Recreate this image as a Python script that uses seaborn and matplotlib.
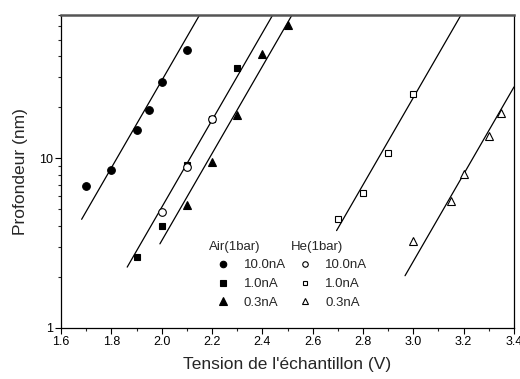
import numpy as np
import pandas as pd
import matplotlib
matplotlib.use("Agg")
import matplotlib.pyplot as plt
from matplotlib.lines import Line2D
import seaborn as sns

# ---- data ----
air10_x = [1.70, 1.80, 1.90, 1.95, 2.00, 2.10]
air10_y = [6.9, 8.5, 14.6, 19.4, 28.2, 43.4]
air1_x = [1.90, 2.00, 2.10, 2.20, 2.30]
air1_y = [2.62, 4.0, 9.2, 17.1, 34.0]
air03_x = [2.10, 2.20, 2.30, 2.40, 2.50]
air03_y = [5.3, 9.5, 18.0, 41.1, 60.8]
he10_x = [2.00, 2.10, 2.20]
he10_y = [4.85, 8.9, 17.0]
he1_x = [2.70, 2.80, 2.90, 3.00]
he1_y = [4.38, 6.28, 10.7, 23.9]
he03_x = [3.00, 3.15, 3.20, 3.30, 3.35]
he03_y = [3.27, 5.6, 8.1, 13.5, 18.5]

# fitted lines: log10(y) = intercept + slope * x, drawn over [x_start, x_end]
fit_slope = 2.57
fit_intercepts = [-3.682, -4.429, -4.626, -6.352, -7.317]
fit_x_start = [1.682, 1.863, 1.993, 2.695, 2.967]
fit_x_end = [2.16, 2.45, 2.53, 3.20, 3.40]

current_labels = ["10.0nA", "1.0nA", "0.3nA"]
x_ticks = [1.6, 1.8, 2.0, 2.2, 2.4, 2.6, 2.8, 3.0, 3.2, 3.4]
y_ticks = [1, 10]

sns.set_style("ticks")
plt.rcParams["font.family"] = ["Liberation Sans", "DejaVu Sans"]

fig = plt.figure(figsize=(5.2, 3.79), dpi=100)
ax = fig.add_axes([61 / 520, 1 - 328 / 379, 453 / 520, 313 / 379])

# fit lines
for b, xs, xe in zip(fit_intercepts, fit_x_start, fit_x_end):
    xx = np.linspace(xs, xe, 50)
    yy = 10 ** (b + fit_slope * xx)
    sns.lineplot(x=xx, y=yy, ax=ax, color="black", linewidth=0.9, legend=False)

series = [
    (air10_x, air10_y, "o", "black", 5.5),
    (air1_x, air1_y, "s", "black", 5.0),
    (air03_x, air03_y, "^", "black", 6.0),
    (he10_x, he10_y, "o", "white", 5.5),
    (he1_x, he1_y, "s", "white", 5.0),
    (he03_x, he03_y, "^", "white", 6.0),
]
for xs, ys, m, fc, ms in series:
    ax.plot(xs, ys, linestyle="none", marker=m, markersize=ms,
            markerfacecolor=fc, markeredgecolor="black", markeredgewidth=0.8,
            zorder=3)

ax.set_yscale("log")
ax.set_xlim(1.6, 3.4)
ax.set_ylim(1, 70)
ax.set_xticks(x_ticks)
ax.set_xticklabels([f"{t:.1f}" for t in x_ticks])
ax.set_xticks(np.arange(1.7, 3.4, 0.2), minor=True)
ax.set_yticks(y_ticks)
ax.set_yticklabels([str(t) for t in y_ticks])
ax.yaxis.set_minor_locator(matplotlib.ticker.LogLocator(base=10, subs=np.arange(2, 10)))
ax.yaxis.set_minor_formatter(matplotlib.ticker.NullFormatter())

ax.tick_params(axis="both", which="major", direction="out", length=4, width=0.8,
               labelsize=9, colors="black", pad=2)
ax.tick_params(axis="both", which="minor", direction="out", length=2.5, width=0.8)

for s in ["left", "bottom", "right"]:
    ax.spines[s].set_visible(True)
    ax.spines[s].set_color("black")
    ax.spines[s].set_linewidth(0.9)
ax.spines["top"].set_visible(True)
ax.spines["top"].set_color("#555555")
ax.spines["top"].set_linewidth(1.8)

ax.set_xlabel("Tension de l'échantillon (V)", fontsize=12.5, labelpad=6)
ax.set_ylabel("Profondeur (nm)", fontsize=12.5, labelpad=8)

def handles(fc, scale):
    return [Line2D([], [], linestyle="none", marker=m, markersize=ms * scale,
                   markerfacecolor=fc, markeredgecolor="black", markeredgewidth=0.8)
            for m, ms in zip(["o", "s", "^"], [5.5, 5.0, 6.0])]

leg_kw = dict(loc="upper left", frameon=False, fontsize=9.5, title_fontsize=9.5,
              alignment="left", handletextpad=0.45, labelspacing=0.5,
              borderpad=0.2, handlelength=2.2)
leg1 = ax.legend(handles("black", 0.85), current_labels, title="Air(1bar)",
                 bbox_to_anchor=(0.306, 0.309), **leg_kw)
ax.add_artist(leg1)
leg2 = ax.legend(handles("white", 0.72), current_labels, title="He(1bar)",
                 bbox_to_anchor=(0.486, 0.309), **leg_kw)

fig.savefig("out.png", dpi=100)
